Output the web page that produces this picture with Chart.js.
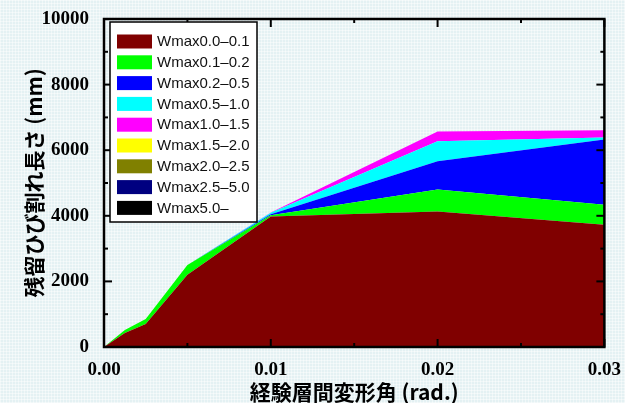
<!DOCTYPE html>
<html>
<head>
<meta charset="utf-8">
<script src="https://cdn.jsdelivr.net/npm/chart.js@4/dist/chart.umd.min.js"></script>
<style>
  html, body { margin: 0; padding: 0; }
  body {
    width: 625px; height: 403px; overflow: hidden;
    background-color: #e4f1f3;
    background-image:
      linear-gradient(rgba(255,255,255,0.45) 1px, transparent 1px),
      linear-gradient(90deg, rgba(255,255,255,0.45) 1px, transparent 1px);
    background-size: 3px 3px;
  }
  #wrap { position: relative; width: 625px; height: 403px; }
</style>
</head>
<body>
<div id="wrap"><canvas id="c" width="625" height="403"></canvas></div>
<script>
// Story drift angle (rad.) at each loading step
const drift = [0, 0.00125, 0.0025, 0.005, 0.01, 0.02, 0.03];

// Residual crack length (mm) per max crack width band
const w00_01 = [0, 430, 700, 2200, 3980, 4130, 3730];
const w01_02 = [0, 90, 150, 300, 40, 670, 610];
const w02_05 = [0, 0, 0, 0, 30, 860, 1990];
const w05_10 = [0, 0, 0, 0, 40, 610, 60];
const w10_15 = [0, 0, 0, 0, 10, 300, 220];
const w15_20 = [0, 0, 0, 0, 0, 0, 0];
const w20_25 = [0, 0, 0, 0, 0, 0, 0];
const w25_50 = [0, 0, 0, 0, 0, 0, 0];
const w50_up = [0, 0, 0, 0, 0, 0, 0];

const bandLabels = ['Wmax0.0–0.1', 'Wmax0.1–0.2', 'Wmax0.2–0.5', 'Wmax0.5–1.0',
  'Wmax1.0–1.5', 'Wmax1.5–2.0', 'Wmax2.0–2.5', 'Wmax2.5–5.0', 'Wmax5.0–'];
const bandValues = [w00_01, w01_02, w02_05, w05_10, w10_15, w15_20, w20_25, w25_50, w50_up];
const bandColors = ['#800000', '#00ff00', '#0000ff', '#00ffff', '#ff00ff',
  '#ffff00', '#808000', '#000080', '#000000'];

const yTicks = [0, 2000, 4000, 6000, 8000, 10000];
const xTicks = [0, 0.01, 0.02, 0.03];

const datasets = bandValues.map((vals, i) => ({
  label: bandLabels[i],
  data: vals.map((v, k) => ({ x: drift[k], y: v })),
  backgroundColor: bandColors[i],
  borderColor: 'rgba(0,0,0,0)',
  borderWidth: 0,
  pointRadius: 0,
  tension: 0,
  fill: i === 0 ? 'origin' : '-1'
}));

const tickFont = { family: "'Liberation Serif', serif", size: 19, weight: 'bold' };
const titleFont = { family: "'Noto Sans CJK JP', sans-serif", size: 21, weight: 'bold', lineHeight: 1.0 };

// Plot frame with inward major/minor ticks on all four sides
const framePlugin = {
  id: 'frame',
  afterDatasetsDraw(chart) {
    const { ctx, chartArea: a, scales: { x, y } } = chart;
    ctx.save();
    ctx.strokeStyle = '#000';
    ctx.lineWidth = 2;
    const tick = (x1, y1, x2, y2) => { ctx.beginPath(); ctx.moveTo(x1, y1); ctx.lineTo(x2, y2); ctx.stroke(); };
    for (let v = 0; v <= 10000; v += 1000) {
      const py = y.getPixelForValue(v);
      const len = v % 2000 === 0 ? 8 : 4;
      tick(a.left, py, a.left + len, py);
      tick(a.right, py, a.right - len, py);
    }
    for (let i = 0; i <= 6; i++) {
      const px = x.getPixelForValue(i * 0.005);
      const len = i % 2 === 0 ? 8 : 4;
      tick(px, a.bottom, px, a.bottom - len);
      tick(px, a.top, px, a.top + len);
    }
    ctx.lineWidth = 2.5;
    ctx.strokeRect(a.left, a.top, a.right - a.left, a.bottom - a.top);
    ctx.restore();
  }
};

// Boxed legend drawn inside the plot area, upper left
const boxLegend = {
  id: 'boxLegend',
  afterDraw(chart) {
    const { ctx } = chart;
    const bx = 110, by = 22, bw = 147, bh = 200;
    ctx.save();
    ctx.fillStyle = '#fff';
    ctx.fillRect(bx, by, bw, bh);
    ctx.strokeStyle = '#000';
    ctx.lineWidth = 1.5;
    ctx.strokeRect(bx, by, bw, bh);
    ctx.font = "15px 'Liberation Sans', sans-serif";
    ctx.textBaseline = 'middle';
    ctx.textAlign = 'left';
    chart.data.datasets.forEach((ds, i) => {
      const cy = 41.5 + i * 20.8;
      ctx.fillStyle = ds.backgroundColor;
      ctx.fillRect(117, cy - 7, 35, 14);
      ctx.fillStyle = '#111';
      ctx.fillText(ds.label, 157, cy + 0.5);
    });
    ctx.restore();
  }
};

new Chart(document.getElementById('c'), {
  type: 'line',
  data: { datasets },
  options: {
    responsive: false,
    animation: false,
    devicePixelRatio: 1,
    layout: { padding: { top: 19, right: 18, left: 0, bottom: 0 } },
    plugins: { legend: { display: false }, tooltip: { enabled: false } },
    scales: {
      x: {
        type: 'linear',
        min: 0, max: 0.03,
        afterBuildTicks(s) { s.ticks = xTicks.map(v => ({ value: v })); },
        afterFit(s) { s.height = 56; },
        grid: { display: false },
        border: { display: false },
        ticks: {
          color: '#000', font: tickFont, padding: 4, maxRotation: 0,
          callback: v => Number(v).toFixed(2)
        },
        title: { display: true, text: '経験層間変形角 (rad.)', color: '#000', font: titleFont, padding: { top: 0, bottom: 0 } }
      },
      y: {
        stacked: true,
        min: 0, max: 10000,
        afterBuildTicks(s) { s.ticks = yTicks.map(v => ({ value: v })); },
        afterFit(s) { s.width = 104; },
        grid: { display: false },
        border: { display: false },
        ticks: { color: '#000', font: tickFont, padding: 7, callback: v => String(v) },
        title: { display: true, text: '残留ひび割れ長さ (mm)', color: '#000', font: titleFont, padding: { top: 24, bottom: 0 } }
      }
    }
  },
  plugins: [framePlugin, boxLegend]
});
</script>
</body>
</html>
